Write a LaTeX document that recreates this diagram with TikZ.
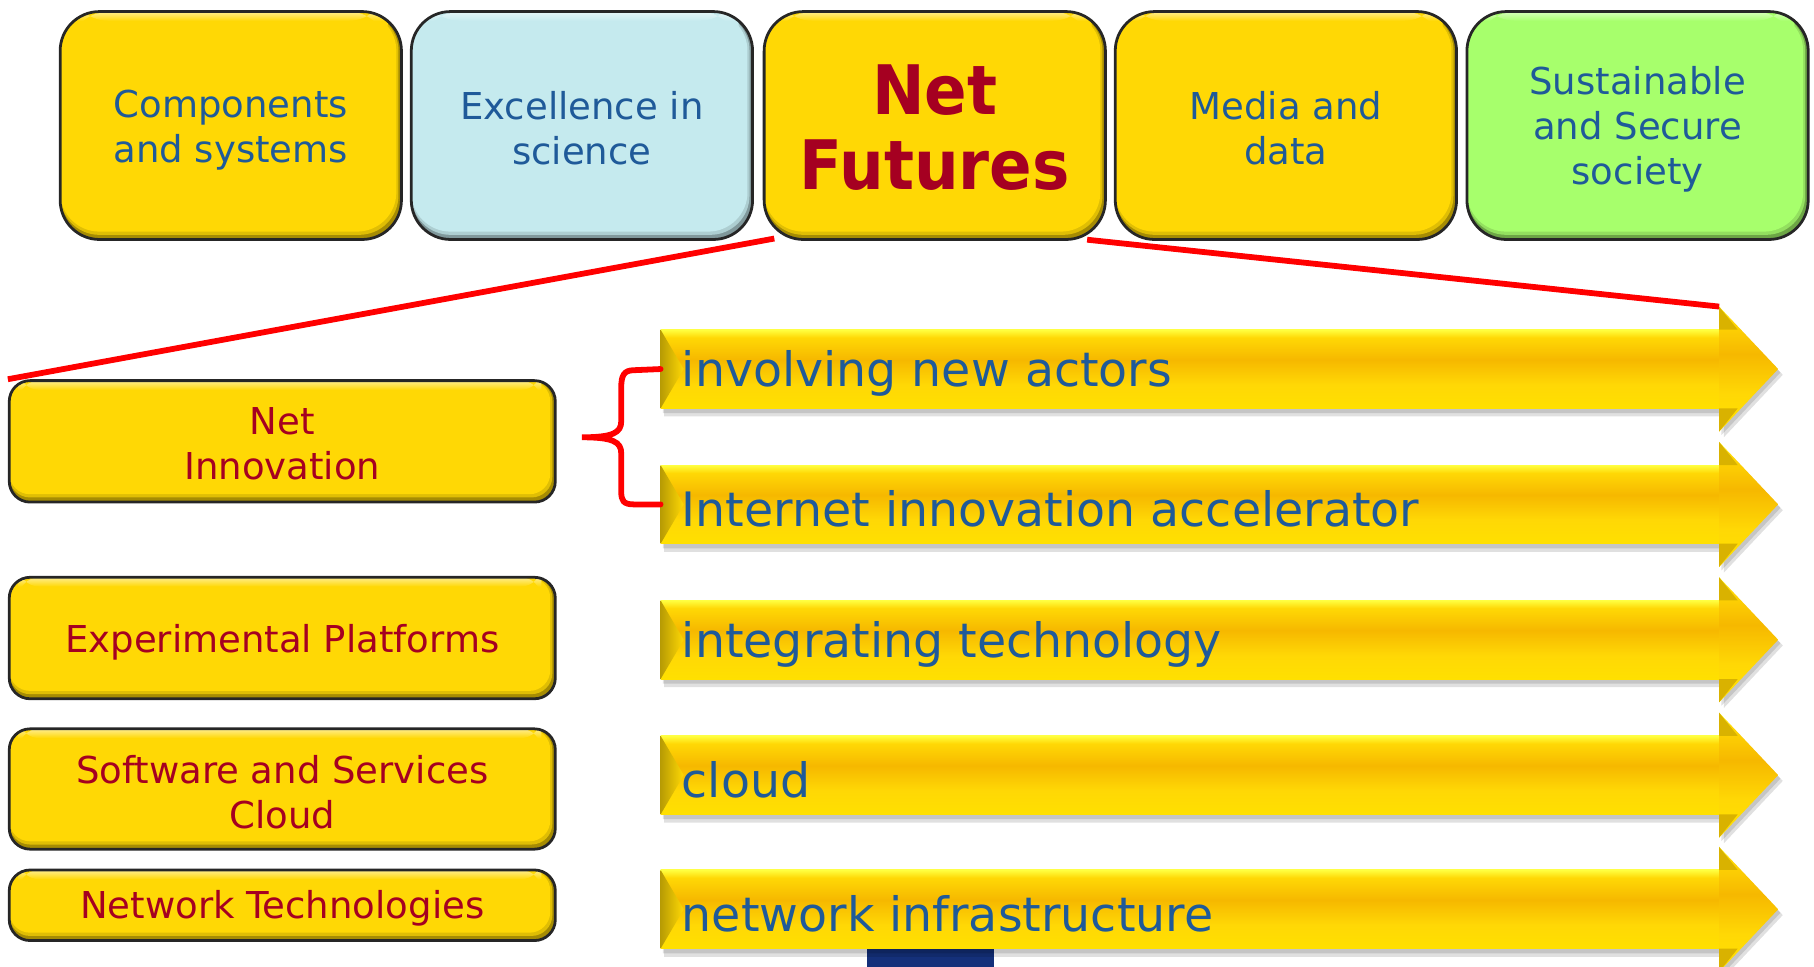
\documentclass[tikz,border=0pt]{standalone}
\usepackage{fontspec}
\setmainfont{DejaVu Sans}
\newfontfamily\nffont{DejaVu Sans}[FakeStretch=0.92]
\usetikzlibrary{calc}
\definecolor{ybox}{HTML}{FFD805}
\definecolor{cbox}{HTML}{C5EAEE}
\definecolor{gbox}{HTML}{A7FF6C}
\definecolor{tblue}{HTML}{1F5A99}
\definecolor{tred}{HTML}{A50021}
\definecolor{navy}{HTML}{14307A}
\definecolor{atop}{HTML}{FFFF40}
\definecolor{amid}{HTML}{F6B800}
\definecolor{abot}{HTML}{FFE000}
\definecolor{headdark}{HTML}{D9B200}
\pgfdeclareverticalshading{arrshade}{100bp}{color(0bp)=(abot); color(25bp)=(abot); color(40bp)=(ybox); color(56bp)=(amid); color(70bp)=(ybox); color(75bp)=(atop); color(100bp)=(atop)}
\tikzset{
  bevel/.style 2 args={path picture={
    \fill[#1!88!black, rounded corners=#2] (path picture bounding box.north west) rectangle ([xshift=-1.3pt,yshift=2pt]path picture bounding box.south east);
    \fill[#1, rounded corners=#2] (path picture bounding box.north west) rectangle ([xshift=-2.2pt,yshift=3.4pt]path picture bounding box.south east);
    \shade[top color=#1!45!white, bottom color=#1] ([xshift=4pt]path picture bounding box.north west) rectangle ([xshift=-6pt,yshift=-4pt]path picture bounding box.north east);}},
  box/.style={draw=black!85, line width=1.2pt, fill=#1!65!black, inner sep=0pt},
  topbox/.style={box=#1, bevel={#1}{17pt}, rounded corners=17pt, minimum width=147.5pt, minimum height=98.5pt},
  leftbox/.style={box=ybox, bevel={ybox}{9pt}, rounded corners=9pt, minimum width=236pt},
  toptext/.style={text=tblue, align=center, inner sep=0pt, font=\fontsize{16}{19.5}\selectfont},
  lefttext/.style={text=tred, align=center, inner sep=0pt, font=\fontsize{16}{19.5}\selectfont},
  arrtext/.style={text=tblue, font=\fontsize{20.5}{24}\selectfont, inner sep=0pt},
  redline/.style={draw=red, line width=2.5pt},
  shadowfill/.style={fill=black, opacity=0.12},
}
\newcommand\bigarrow[3]{%
  \fill[shadowfill] (574,#1-29) -- (1490,#1-29) -- (1490,#1-49) -- (1541,#1+5) -- (1490,#1+59) -- (1490,#1+41) -- (574,#1+41) -- cycle;
  \fill[shadowfill] (573,#1-31) -- (1488,#1-31) -- (1488,#1-51) -- (1539,#1+3) -- (1488,#1+57) -- (1488,#1+38) -- (573,#1+38) -- cycle;
  \shade[shading=arrshade] (571,#1-34) rectangle (1487,#1+34);
  \shade[shading=arrshade] (1486,#1-54) -- (1537,#1) -- (1486,#1+54) -- cycle;
  \fill[headdark] (1486,#1-54) -- (1502,#1-34) -- (1486,#1-34) -- cycle;
  \fill[headdark] (1486,#1+54) -- (1502,#1+34) -- (1486,#1+34) -- cycle;
  \shade[left color=ybox!72!black, right color=ybox] (571,#1-34) -- (591,#1) -- (571,#1+34) -- cycle;
  \coordinate (#2) at (571,#1);
  \coordinate (#2h) at (1486,#1-54);
  \node[arrtext, anchor=west] (#2t) at (589,#1+4) {#3};
}
\begin{document}
\begin{tikzpicture}[x=0.5pt,y=-0.5pt]
\useasboundingbox (0,0) rectangle (1568,835);
% top row
\node[topbox=ybox] (cs) at (199.5,108.5) {};
\node[toptext] (csT) at ([yshift=-1.8pt]cs.center) {Components\\and systems};
\node[topbox=cbox] (es) at (503,108.5) {};
\node[toptext] (esT) at ([yshift=-1.2pt]es.center) {Excellence in\\science};
\node[topbox=ybox] (nf) at (808,108.5) {};
\node[toptext, text=tred, font=\nffont\bfseries\fontsize{29.5}{32.5}\selectfont] (nfT) at ([yshift=-1pt]nf.center) {Net\\Futures};
\node[topbox=ybox] (md) at (1111.5,108.5) {};
\node[toptext] (mdT) at ([yshift=-1.2pt]md.center) {Media and\\data};
\node[topbox=gbox] (ss) at (1415.5,108.5) {};
\node[toptext] (ssT) at ([yshift=-1.5pt]ss.center) {Sustainable\\and Secure\\society};
% left column
\node[leftbox, minimum height=52.5pt] (ni) at (244,381.5) {};
\node[lefttext] (niT) at ([yshift=-1.2pt]ni.center) {Net\\Innovation};
\node[leftbox, minimum height=52.5pt] (ep) at (244,551.5) {};
\node[lefttext] (epT) at ([yshift=-1.8pt]ep.center) {Experimental Platforms};
\node[leftbox, minimum height=52pt] (sc) at (244,682) {};
\node[lefttext] (scT) at ([yshift=-1.2pt]sc.center) {Software and Services\\Cloud};
\node[leftbox, minimum height=30.5pt] (nt) at (244,782.5) {};
\node[lefttext] (ntT) at ([yshift=-1.5pt]nt.center) {Network Technologies};
% dark block at the bottom
\fill[navy] (749,819) rectangle (859,840);
% arrows
\bigarrow{319}{a1}{involving new actors}
\bigarrow{436}{a2}{Internet innovation accelerator}
\bigarrow{553}{a3}{integrating technology}
\bigarrow{670}{a4}{cloud}
\bigarrow{786}{a5}{network infrastructure}
% brace
\draw[redline, line cap=round] (a1) -- (548,320) .. controls (539,320) and (537,325) .. (537,335) -- (537,364) .. controls (537,374) and (530,378) .. (503,378) .. controls (530,378) and (537,382) .. (537,392) -- (537,425) .. controls (537,433) and (539,436) .. (548,436) -- (a2);
% red connectors
\draw[redline] ($(nf.south west)+(10,-2)$) -- (ni.north west);
\draw[redline] ($(nf.south east)+(-17,-1)$) -- (a1h);
\end{tikzpicture}
\end{document}
